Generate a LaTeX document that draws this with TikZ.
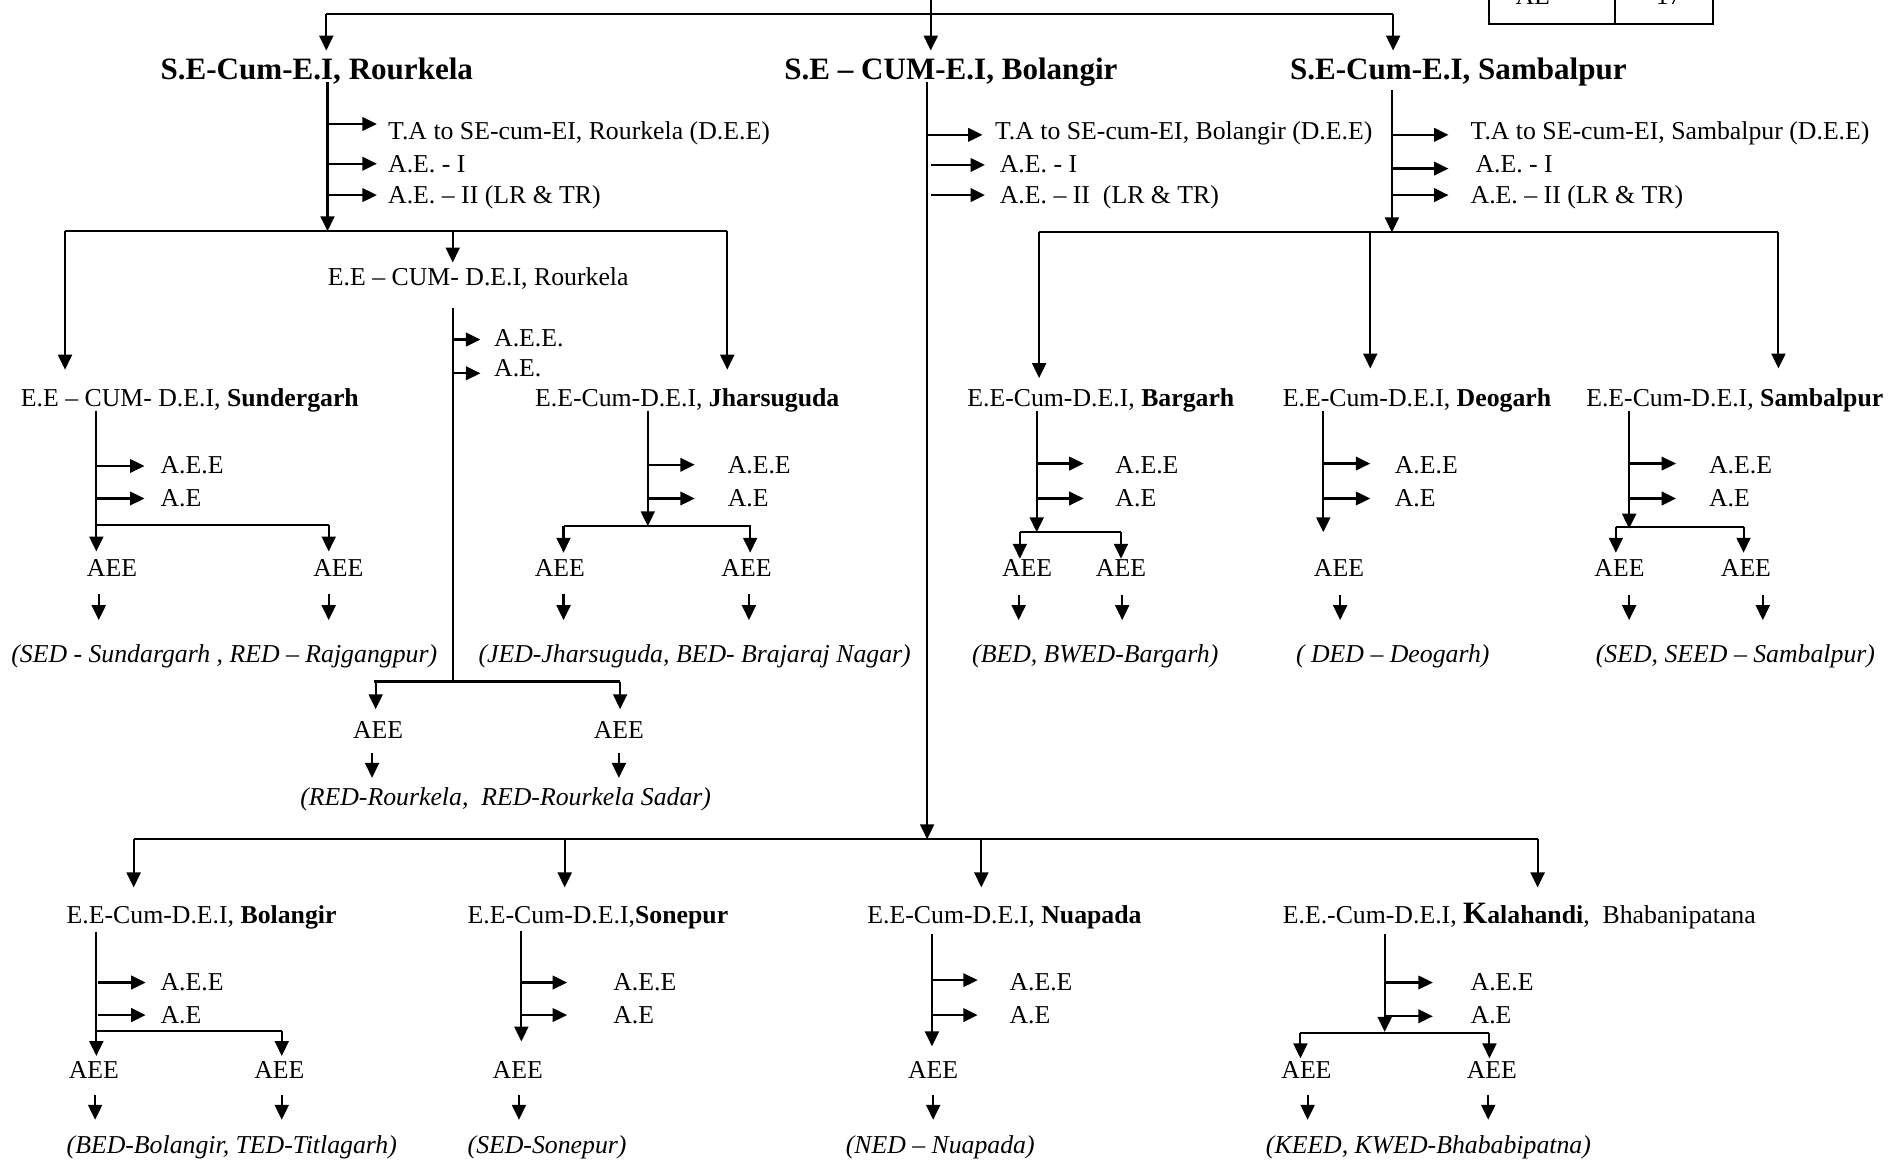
\documentclass[tikz,border=0pt]{standalone}
\usepackage{fontspec}
\setmainfont{Liberation Serif}
\usetikzlibrary{arrows.meta}
\begin{document}
\begin{tikzpicture}[x=0.5pt,y=-0.5pt,
  every node/.style={inner sep=0pt, font=\fontsize{10.7}{12}\selectfont},
  lbl/.style={anchor=base west},
  cl/.style={anchor=base},
  head/.style={anchor=base west, font=\fontsize{12.9}{15}\selectfont\bfseries},
  ital/.style={anchor=base west, font=\fontsize{10.7}{12}\selectfont\itshape},
  ln/.style={line width=0.85pt},
  arr/.style={line width=0.85pt, -{Triangle[length=6.2pt,width=5.8pt]}},
  sarr/.style={line width=0.95pt, -{Triangle[length=6pt,width=5.6pt]}},
]
\useasboundingbox (0,0) rectangle (1568,969);
\clip (0,0) rectangle (1568,969);
\fill[white] (0,0) rectangle (1568,969);

% ---- table at top right (cut by the page edge)
\draw[ln] (1237,-10) rectangle (1423,20);
\draw[ln] (1341,-10) -- (1341,20);
\node[cl] (tAE) at (1273,4) {AE};
\node[cl] (t17) at (1386,4) {17};

% ---- top distribution
\coordinate (topin) at (773,0);
\draw[ln] (271,12) -- (1157,12);
\draw[arr] (topin) -- (773,42);
\draw[arr] (271,12) -- (271,42);
\draw[arr] (1157,12) -- (1157,42);

\node[head] (seR) at (133,66) {S.E-Cum-E.I, Rourkela};
\node[head] (seB) at (651,66) {S.E -- CUM-E.I, Bolangir};
\node[head] (seS) at (1071,66) {S.E-Cum-E.I, Sambalpur};

% ---- Rourkela circle
\draw[arr] (272,68) -- (272,192);
\draw[sarr] (272,103) -- (313,103);
\draw[sarr] (272,136) -- (313,136);
\draw[sarr] (272,162) -- (313,162);
\node[lbl] (rTA) at (322,116) {T.A to SE-cum-EI, Rourkela (D.E.E)};
\node[lbl] (rAE1) at (322,143) {A.E. - I};
\node[lbl] (rAE2) at (322,169) {A.E. -- II (LR \& TR)};
\draw[ln] (54,192) -- (604,192);
\draw[arr] (54,192) -- (54,307);
\draw[arr] (376,192) -- (376,218);
\draw[arr] (604,192) -- (604,307);

\node[lbl] (eeR) at (272,237) {E.E -- CUM- D.E.I, Rourkela};
\draw[ln] (376,256) -- (376,566);
\draw[sarr] (376,282) -- (399,282);
\draw[sarr] (376,310) -- (399,310);
\node[lbl] (rAEE) at (410,288) {A.E.E.};
\node[lbl] (rAE) at (410,313) {A.E.};
\draw[ln] (311,566) -- (515,566);
\draw[arr] (312,566) -- (312,589);
\draw[arr] (515,566) -- (515,589);
\node[cl] (rA1) at (314,613) {AEE};
\node[cl] (rA2) at (514,613) {AEE};
\draw[arr] (309,625) -- (309,646);
\draw[arr] (514,625) -- (514,646);
\node[ital] (rDiv) at (249,669) {(RED-Rourkela,\ \ RED-Rourkela Sadar)};

% ---- Sundergarh
\node[lbl] (eeSu) at (17,338) {E.E -- CUM- D.E.I, \textbf{Sundergarh}};
\draw[arr] (80,341) -- (80,458);
\draw[sarr] (80,387) -- (120,387);
\draw[sarr] (80,414) -- (120,414);
\node[lbl] (suAEE) at (133,393) {A.E.E};
\node[lbl] (suAE) at (133,421) {A.E};
\draw[ln] (80,436) -- (273,436);
\draw[arr] (273,436) -- (273,458);
\node[cl] (suA1) at (93,479) {AEE};
\node[cl] (suA2) at (281,479) {AEE};
\draw[arr] (82,493) -- (82,515);
\draw[arr] (273,493) -- (273,515);
\node[ital] (suDiv) at (9,550) {(SED - Sundargarh , RED -- Rajgangpur)};

% ---- Jharsuguda
\node[lbl] (eeJ) at (444,338) {E.E-Cum-D.E.I, \textbf{Jharsuguda}};
\draw[arr] (538,341) -- (538,437);
\draw[sarr] (538,386) -- (577,386);
\draw[sarr] (538,414) -- (577,414);
\node[lbl] (jAEE) at (604,393) {A.E.E};
\node[lbl] (jAE) at (604,421) {A.E};
\draw[ln] (468,437) -- (624,437);
\draw[arr] (468,437) -- (468,459);
\draw[arr] (623,437) -- (623,459);
\node[cl] (jA1) at (465,479) {AEE};
\node[cl] (jA2) at (620,479) {AEE};
\draw[arr] (468,493) -- (468,515);
\draw[arr] (622,493) -- (622,515);
\node[ital] (jDiv) at (397,550) {(JED-Jharsuguda, BED- Brajaraj Nagar)};

% ---- Bolangir circle
\draw[arr] (770,68) -- (770,697);
\draw[sarr] (770,112) -- (816,112);
\draw[sarr] (773,137) -- (818,137);
\draw[sarr] (773,162) -- (818,162);
\node[lbl] (bTA) at (826,116) {T.A to SE-cum-EI, Bolangir (D.E.E)};
\node[lbl] (bAE1) at (830,143) {A.E. - I};
\node[lbl] (bAE2) at (830,169) {A.E. -- II\ \ (LR \& TR)};
\draw[ln] (111,697) -- (1277,697);
\draw[arr] (111,697) -- (111,737);
\draw[arr] (469,697) -- (469,737);
\draw[arr] (815,697) -- (815,737);
\draw[arr] (1277,697) -- (1277,737);

% ---- Sambalpur circle
\draw[arr] (1156,75) -- (1156,193);
\draw[sarr] (1156,112) -- (1203,112);
\draw[sarr] (1156,140) -- (1203,140);
\draw[sarr] (1156,162) -- (1203,162);
\node[lbl] (sTA) at (1221,116) {T.A to SE-cum-EI, Sambalpur (D.E.E)};
\node[lbl] (sAE1) at (1225,143) {A.E. - I};
\node[lbl] (sAE2) at (1221,169) {A.E. -- II (LR \& TR)};
\draw[ln] (863,193) -- (1477,193);
\draw[arr] (863,193) -- (863,314);
\draw[arr] (1138,193) -- (1138,306);
\draw[arr] (1477,193) -- (1477,306);

% ---- Bargarh
\node[lbl] (eeBa) at (803,338) {E.E-Cum-D.E.I, \textbf{Bargarh}};
\draw[arr] (861,341) -- (861,442);
\draw[sarr] (861,385) -- (900,385);
\draw[sarr] (861,414) -- (900,414);
\node[lbl] (baAEE) at (926,393) {A.E.E};
\node[lbl] (baAE) at (926,421) {A.E};
\draw[ln] (847,442) -- (931,442);
\draw[arr] (847,442) -- (847,464);
\draw[arr] (931,442) -- (931,464);
\node[cl] (baA1) at (853,479) {AEE};
\node[cl] (baA2) at (931,479) {AEE};
\draw[arr] (846,494) -- (846,515);
\draw[arr] (932,494) -- (932,515);
\node[ital] (baDiv) at (807,550) {(BED, BWED-Bargarh)};

% ---- Deogarh
\node[lbl] (eeD) at (1065,338) {E.E-Cum-D.E.I, \textbf{Deogarh}};
\draw[arr] (1099,341) -- (1099,442);
\draw[sarr] (1099,385) -- (1138,385);
\draw[sarr] (1099,414) -- (1138,414);
\node[lbl] (dAEE) at (1158,393) {A.E.E};
\node[lbl] (dAE) at (1158,421) {A.E};
\node[cl] (dA1) at (1112,479) {AEE};
\draw[arr] (1113,494) -- (1113,515);
\node[ital] (dDiv) at (1076,550) {( DED -- Deogarh)};

% ---- Sambalpur division
\node[lbl] (eeSa) at (1317,338) {E.E-Cum-D.E.I, \textbf{Sambalpur}};
\draw[arr] (1353,341) -- (1353,439);
\draw[sarr] (1353,385) -- (1392,385);
\draw[sarr] (1353,414) -- (1392,414);
\node[lbl] (saAEE) at (1419,393) {A.E.E};
\node[lbl] (saAE) at (1419,421) {A.E};
\draw[ln] (1342,438) -- (1448,438);
\draw[arr] (1342,438) -- (1342,459);
\draw[arr] (1448,438) -- (1448,459);
\node[cl] (saA1) at (1345,479) {AEE};
\node[cl] (saA2) at (1450,479) {AEE};
\draw[arr] (1353,494) -- (1353,515);
\draw[arr] (1464,494) -- (1464,515);
\node[ital] (saDiv) at (1325,550) {(SED, SEED -- Sambalpur)};

% ---- Bolangir division
\node[lbl] (eeBo) at (55,767) {E.E-Cum-D.E.I, \textbf{Bolangir}};
\draw[arr] (80,774) -- (80,877);
\draw[sarr] (81,816) -- (121,816);
\draw[sarr] (81,843) -- (121,843);
\node[lbl] (boAEE) at (133,823) {A.E.E};
\node[lbl] (boAE) at (133,850) {A.E};
\draw[ln] (80,856) -- (234,856);
\draw[arr] (234,856) -- (234,877);
\node[cl] (boA1) at (78,896) {AEE};
\node[cl] (boA2) at (232,896) {AEE};
\draw[arr] (79,909) -- (79,930);
\draw[arr] (234,909) -- (234,930);
\node[ital] (boDiv) at (55,958) {(BED-Bolangir, TED-Titlagarh)};

% ---- Sonepur
\node[lbl] (eeSo) at (388,767) {E.E-Cum-D.E.I,\textbf{Sonepur}};
\draw[arr] (433,773) -- (433,865);
\draw[sarr] (433,816) -- (471,816);
\draw[sarr] (433,843) -- (471,843);
\node[lbl] (soAEE) at (509,823) {A.E.E};
\node[lbl] (soAE) at (509,850) {A.E};
\node[cl] (soA1) at (430,896) {AEE};
\draw[arr] (431,909) -- (431,930);
\node[ital] (soDiv) at (388,958) {(SED-Sonepur)};

% ---- Nuapada
\node[lbl] (eeN) at (720,767) {E.E-Cum-D.E.I, \textbf{Nuapada}};
\draw[arr] (774,776) -- (774,869);
\draw[sarr] (773,814) -- (812,814);
\draw[sarr] (773,843) -- (812,843);
\node[lbl] (nAEE) at (838,823) {A.E.E};
\node[lbl] (nAE) at (838,850) {A.E};
\node[cl] (nA1) at (775,896) {AEE};
\draw[arr] (775,909) -- (775,930);
\node[ital] (nDiv) at (702,958) {(NED -- Nuapada)};

% ---- Kalahandi
\node[lbl] (eeK) at (1065,767) {E.E.-Cum-D.E.I, \textbf{{\fontsize{12.9}{15}\selectfont K}alahandi},\ \ Bhabanipatana};
\draw[arr] (1150,776) -- (1150,857);
\draw[sarr] (1150,816) -- (1190,816);
\draw[sarr] (1150,844) -- (1190,844);
\node[lbl] (kAEE) at (1221,823) {A.E.E};
\node[lbl] (kAE) at (1221,850) {A.E};
\draw[ln] (1080,858) -- (1237,858);
\draw[arr] (1080,858) -- (1080,879);
\draw[arr] (1237,858) -- (1237,879);
\node[cl] (kA1) at (1085,896) {AEE};
\node[cl] (kA2) at (1239,896) {AEE};
\draw[arr] (1086,909) -- (1086,930);
\draw[arr] (1236,909) -- (1236,930);
\node[ital] (kDiv) at (1051,958) {(KEED, KWED-Bhababipatna)};
\end{tikzpicture}
\end{document}
